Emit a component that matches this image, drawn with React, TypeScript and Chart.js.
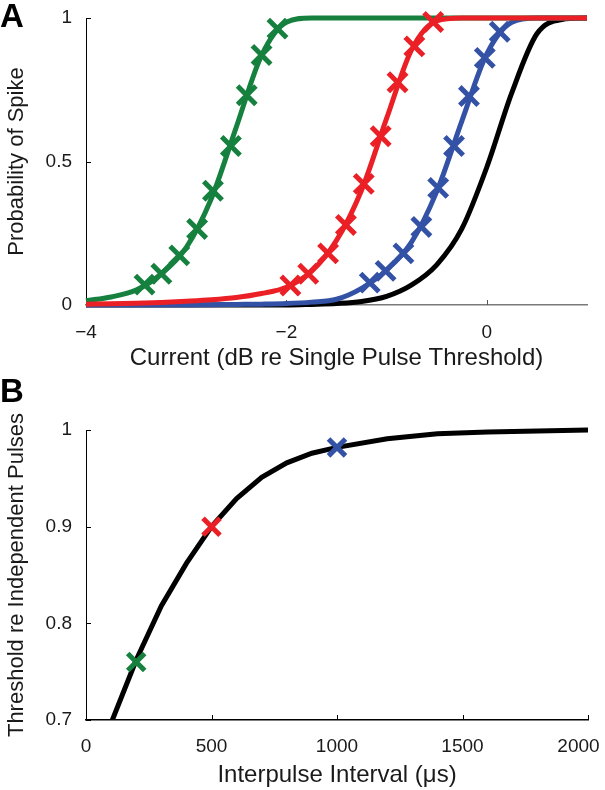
import React, { useEffect, useRef } from 'react';
import { Chart, registerables } from 'chart.js';

Chart.register(...registerables);

const FONT = '"Liberation Sans", Arial, Helvetica, sans-serif';
const TEXT = '#1a1a1a';
const GREEN = 'rgb(22,128,62)';
const RED = 'rgb(234,32,38)';
const BLUE = 'rgb(52,82,165)';
const BLACK = '#000000';

// ---------- Panel A data ----------
const currentGrid = [-4, -3.75, -3.5, -3.25, -3, -2.75, -2.5, -2.25, -2, -1.75, -1.5, -1.25, -1, -0.75, -0.5, -0.25, 0, 0.25, 0.5, 0.75, 1];
const greenCurve = [0.015, 0.028, 0.052, 0.108, 0.2, 0.37, 0.62, 0.868, 0.985, 1, 1, 1, 1, 1, 1, 1, 1, 1, 1, 1, 1];
const redCurve = [0.003, 0.004, 0.006, 0.009, 0.013, 0.018, 0.026, 0.04, 0.062, 0.117, 0.225, 0.4, 0.65, 0.89, 0.99, 1, 1, 1, 1, 1, 1];
const blueCurve = [0, 0, 0, 0, 0, 0.001, 0.002, 0.003, 0.005, 0.01, 0.02, 0.058, 0.122, 0.22, 0.395, 0.64, 0.875, 0.985, 1, 1, 1];
const blackCurve = [0, 0, 0, 0, 0, 0, 0, 0, 0, 0.002, 0.005, 0.012, 0.03, 0.07, 0.14, 0.265, 0.48, 0.74, 0.945, 0.995, 1];

const greenMarkX = [-3.416, -3.248, -3.069, -2.891, -2.733, -2.554, -2.396, -2.248, -2.089];
const greenMarkY = [0.071, 0.109, 0.173, 0.265, 0.398, 0.554, 0.731, 0.871, 0.963];
const redMarkX = [-1.96, -1.782, -1.584, -1.406, -1.228, -1.059, -0.891, -0.723, -0.535];
const redMarkY = [0.068, 0.109, 0.18, 0.279, 0.422, 0.588, 0.776, 0.901, 0.986];
const blueMarkX = [-1.168, -1.01, -0.832, -0.653, -0.485, -0.327, -0.178, -0.02, 0.129];
const blueMarkY = [0.078, 0.119, 0.18, 0.272, 0.408, 0.554, 0.728, 0.861, 0.952];

// ---------- Panel B data ----------
const intervals = [105, 200, 300, 400, 500, 600, 700, 800, 900, 1000, 1200, 1400, 1600, 1800, 2000];
const thresholds = [0.7, 0.762, 0.818, 0.862, 0.9, 0.929, 0.951, 0.966, 0.976, 0.982, 0.991, 0.996, 0.998, 0.999, 1.0];
const markIntervals = [200, 500, 1000];
const markThresholds = [0.76, 0.9, 0.982];
const markColors = [GREEN, RED, BLUE];

const zip = (xs: number[], ys: number[]) => xs.map((x, i) => ({ x, y: ys[i] }));

const inwardTicks = {
  id: 'inwardTicks',
  beforeDatasetsDraw(chart: any, _args: any, opts: any) {
    const o = opts || {};
    const { ctx, chartArea: a } = chart;
    const len = o.len ?? 5;
    ctx.save();
    ctx.lineWidth = 1;
    const xs = chart.scales.x;
    const ys = chart.scales.y;
    ctx.strokeStyle = o.xColor || '#000';
    xs.ticks.forEach((t: any) => {
      const p = Math.round(xs.getPixelForValue(t.value)) + 0.5;
      ctx.beginPath();
      ctx.moveTo(p, a.bottom);
      ctx.lineTo(p, a.bottom - len);
      ctx.stroke();
    });
    ctx.strokeStyle = o.yColor || '#000';
    ys.ticks.forEach((t: any) => {
      const p = Math.round(ys.getPixelForValue(t.value)) + 0.5;
      ctx.beginPath();
      ctx.moveTo(a.left, p);
      ctx.lineTo(a.left + len, p);
      ctx.stroke();
    });
    ctx.restore();
  },
};

const minus = (v: number, digits = 1) => {
  const s = String(Number(v.toFixed(digits)));
  return s.replace('-', '\u2212');
};

function curveDs(data: { x: number; y: number }[], color: string) {
  return {
    data,
    borderColor: color,
    backgroundColor: color,
    borderWidth: 5,
    pointRadius: 0,
    cubicInterpolationMode: 'monotone' as const,
    fill: false,
    clip: false as any,
  };
}

function markDs(data: { x: number; y: number }[], color: string | string[], radius = 13) {
  return {
    data,
    showLine: false,
    pointStyle: 'crossRot' as const,
    pointRadius: radius,
    pointBorderWidth: 5,
    pointBorderColor: color,
    pointBackgroundColor: color,
    borderColor: color,
    clip: false as any,
  };
}

const fitY = (s: any) => {
  s.width = 86;
  s.paddingTop = 0;
  s.paddingBottom = 0;
};

function ChartA() {
  const ref = useRef<HTMLCanvasElement>(null);
  useEffect(() => {
    const chart = new Chart(ref.current!, {
      type: 'line',
      data: {
        datasets: [
          markDs(zip(redMarkX, redMarkY), RED),
          curveDs(zip(currentGrid, redCurve), RED),
          markDs(zip(greenMarkX, greenMarkY), GREEN),
          curveDs(zip(currentGrid, greenCurve), GREEN),
          markDs(zip(blueMarkX, blueMarkY), BLUE),
          curveDs(zip(currentGrid, blueCurve), BLUE),
          curveDs(zip(currentGrid, blackCurve), BLACK),
        ] as any,
      },
      options: {
        animation: false,
        responsive: false,
        maintainAspectRatio: false,
        layout: { padding: { top: 11, right: 14, left: 0, bottom: 0 } },
        plugins: {
          legend: { display: false },
          tooltip: { enabled: false },
          inwardTicks: { xColor: '#555', yColor: '#000', len: 5 },
        } as any,
        scales: {
          x: {
            type: 'linear',
            min: -4,
            max: 1,
            grid: { drawOnChartArea: false, drawTicks: false },
            border: { color: '#7a7a7a', width: 1.5 },
            ticks: {
              stepSize: 2,
              includeBounds: false,
              maxRotation: 0,
              padding: 16,
              color: TEXT,
              font: { family: FONT, size: 19 },
              callback: (v: any) => minus(Number(v)),
            },
            title: {
              display: true,
              text: 'Current (dB re Single Pulse Threshold)',
              color: TEXT,
              font: { family: FONT, size: 24 },
              padding: { top: 0, bottom: 7 },
            },
            afterFit: (s: any) => {
              s.height = 75;
              s.paddingLeft = 0;
              s.paddingRight = 0;
            },
          },
          y: {
            type: 'linear',
            min: 0,
            max: 1,
            grid: { drawOnChartArea: false, drawTicks: false },
            border: { color: '#000', width: 1 },
            ticks: {
              stepSize: 0.5,
              padding: 14,
              color: TEXT,
              font: { family: FONT, size: 19 },
              callback: (v: any) => minus(Number(v)),
            },
            title: {
              display: true,
              text: 'Probability of Spike',
              color: TEXT,
              font: { family: FONT, size: 22 },
              padding: { top: 4, bottom: 0 },
            },
            afterFit: fitY,
          },
        },
      } as any,
      plugins: [inwardTicks as any],
    });
    return () => chart.destroy();
  }, []);
  return <canvas ref={ref} width={605} height={380} style={{ position: 'absolute', left: 0, top: 0, width: 605, height: 380 }} />;
}

function ChartB() {
  const ref = useRef<HTMLCanvasElement>(null);
  useEffect(() => {
    const chart = new Chart(ref.current!, {
      type: 'line',
      data: {
        datasets: [
          markDs(zip(markIntervals, markThresholds), markColors, 12),
          {
            data: zip(intervals, thresholds),
            borderColor: BLACK,
            borderWidth: 5,
            pointRadius: 0,
            tension: 0,
            fill: false,
            clip: { left: 0, top: false, right: false, bottom: 0 },
          },
        ] as any,
      },
      options: {
        animation: false,
        responsive: false,
        maintainAspectRatio: false,
        layout: { padding: { top: 50, right: 13, left: 0, bottom: 0 } },
        plugins: {
          legend: { display: false },
          tooltip: { enabled: false },
          inwardTicks: { xColor: '#000', yColor: '#000', len: 5 },
        } as any,
        scales: {
          x: {
            type: 'linear',
            min: 0,
            max: 2000,
            grid: { drawOnChartArea: false, drawTicks: false },
            border: { color: '#000', width: 1.5 },
            ticks: {
              stepSize: 500,
              maxRotation: 0,
              padding: 15,
              color: TEXT,
              font: { family: FONT, size: 19 },
              callback: (v: any) => {
                const n = Math.round(Number(v));
                return n === 2000 ? String(n) + '\u2002\u2002' : String(n);
              },
            },
            title: {
              display: true,
              text: 'Interpulse Interval (\u03bcs)',
              color: TEXT,
              font: { family: FONT, size: 24 },
              padding: { top: 0, bottom: 0 },
            },
            afterFit: (s: any) => {
              s.height = 70;
              s.paddingLeft = 0;
              s.paddingRight = 0;
            },
          },
          y: {
            type: 'linear',
            min: 0.7,
            max: 1,
            grid: { drawOnChartArea: false, drawTicks: false },
            border: { color: '#000', width: 1 },
            ticks: {
              stepSize: 0.1,
              padding: 14,
              color: TEXT,
              font: { family: FONT, size: 19 },
              callback: (v: any) => String(Number(Number(v).toFixed(1))),
            },
            title: {
              display: true,
              text: 'Threshold re Independent Pulses',
              color: TEXT,
              font: { family: FONT, size: 22 },
              padding: { top: 4, bottom: 0 },
            },
            afterFit: fitY,
          },
        },
      } as any,
      plugins: [inwardTicks as any],
    });
    return () => chart.destroy();
  }, []);
  return <canvas ref={ref} width={605} height={410} style={{ position: 'absolute', left: 0, top: 380, width: 605, height: 410 }} />;
}

const panelLabel: React.CSSProperties = {
  position: 'absolute',
  left: 0,
  fontFamily: FONT,
  fontWeight: 'bold',
  fontSize: 33,
  lineHeight: '33px',
  color: '#000',
};

export default function App() {
  return (
    <div style={{ position: 'absolute', left: 0, top: 0, width: 605, height: 790, background: '#fff', overflow: 'hidden' }}>
      <ChartA />
      <ChartB />
      <div style={{ ...panelLabel, top: -1 }}>A</div>
      <div style={{ ...panelLabel, top: 374 }}>B</div>
    </div>
  );
}
